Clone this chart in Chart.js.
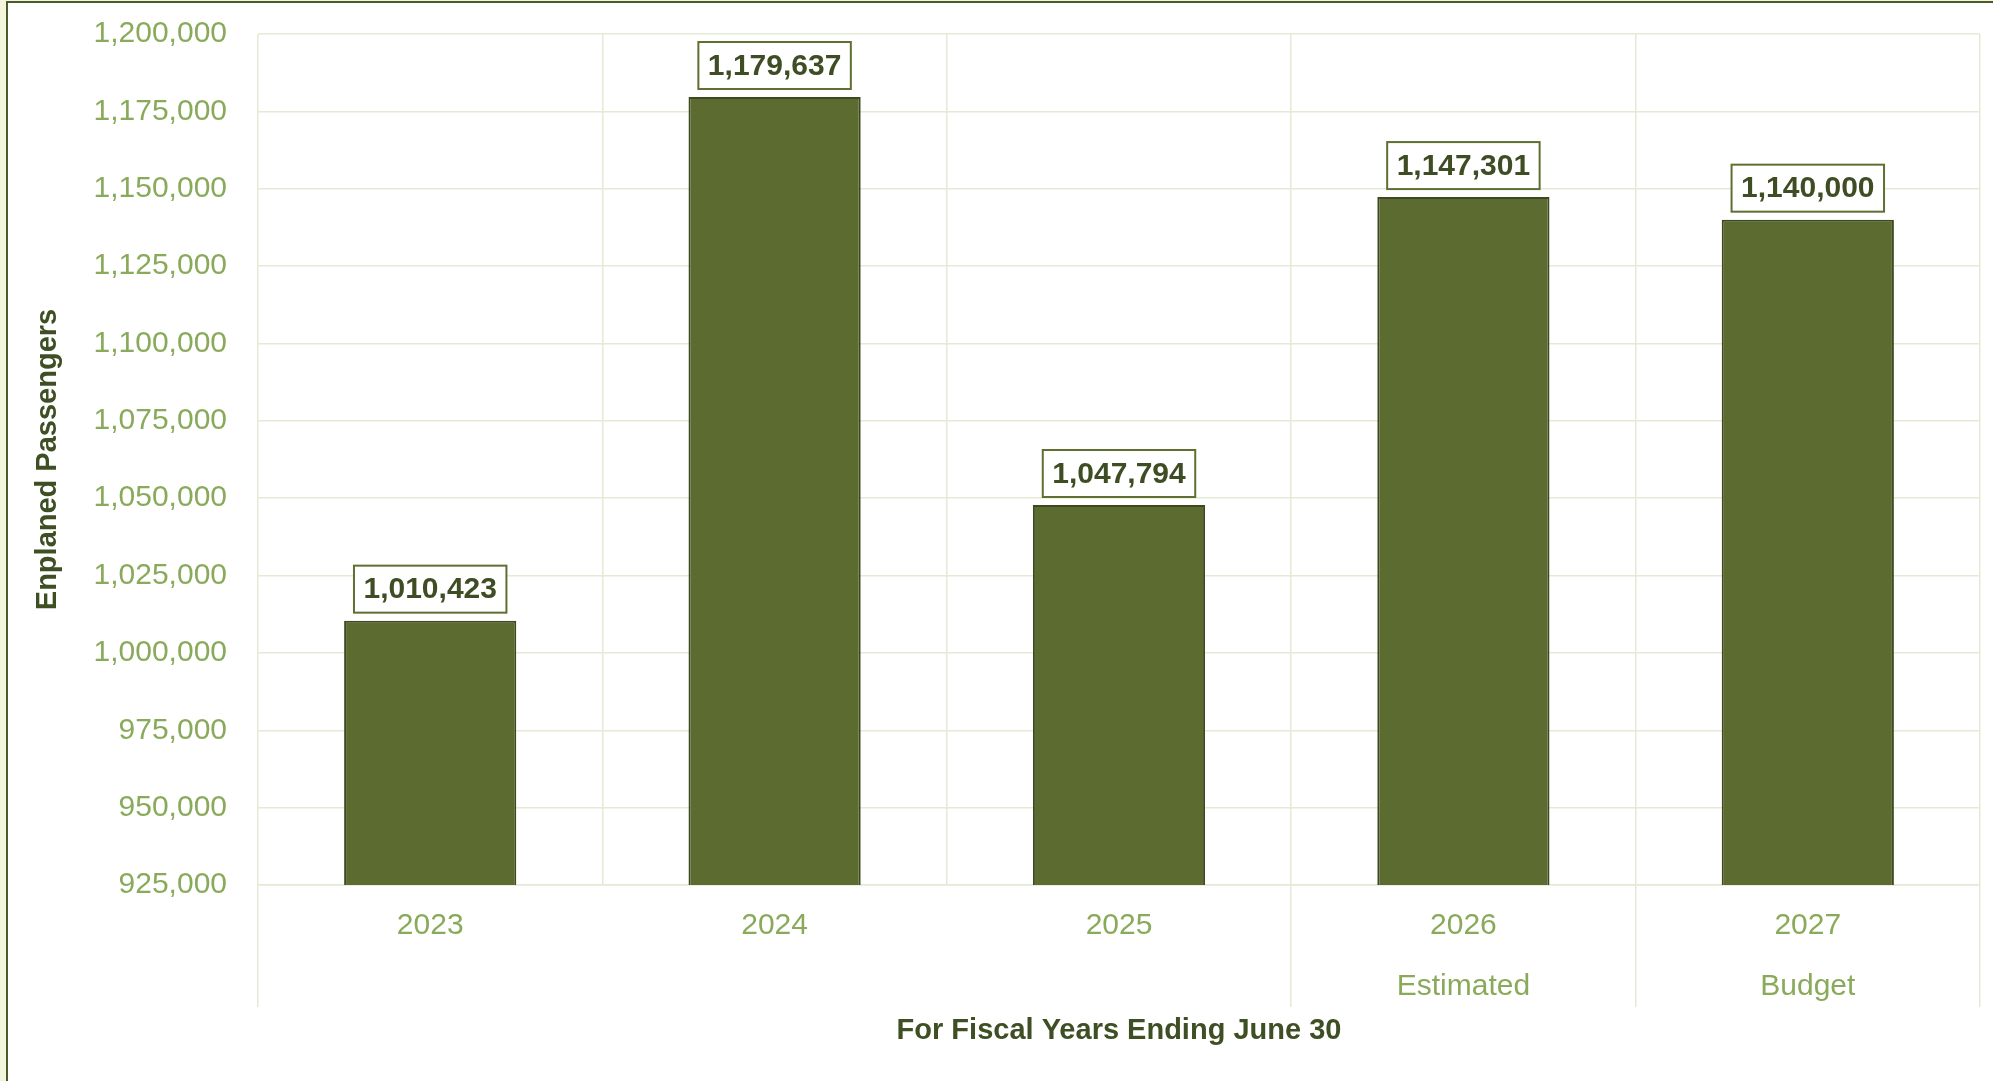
<!DOCTYPE html>
<html>
<head>
<meta charset="utf-8">
<title>Enplaned Passengers</title>
<script src="https://cdn.jsdelivr.net/npm/chart.js@4"></script>
<style>
  html, body {
    margin: 0;
    padding: 0;
    width: 1993px;
    height: 1081px;
    overflow: hidden;
    background: #f3f6dd;
  }
  #frame {
    position: absolute;
    left: 6px;
    top: 1px;
    width: 2000px;
    height: 1100px;
    background: #ffffff;
    border-left: 2px solid #4b5a2b;
    border-top: 2px solid #4b5a2b;
  }
  #chart {
    position: absolute;
    left: 0;
    top: 0;
  }
</style>
</head>
<body>
<div id="frame"></div>
<canvas id="chart" width="1993" height="1081"></canvas>
<script>
// Fiscal years and the second-level group shown under some of them
const years = ['2023', '2024', '2025', '2026', '2027'];
const yearGroups = ['', '', '', 'Estimated', 'Budget'];
const passengers = [1010423, 1179637, 1047794, 1147301, 1140000];

// Value axis range
const yMin = 925000;
const yMax = 1200000;
const yStep = 25000;

const GRID = '#e6e9d6';
const TICK_TEXT = '#8aaa5b';
const TITLE_TEXT = '#3f4f24';
const BAR_FILL = '#5c6b30';
const BAR_EDGE = '#3d4a20';
const FONT = '"Liberation Sans", Arial, sans-serif';

const fmt = (v) => Number(v).toLocaleString('en-US');

// Category labels: year on the first line, group name (if any) below
const xLabels = years.map((y, i) => yearGroups[i] ? [y, yearGroups[i]] : [y]);

// A divider runs below the axis only where the group changes
const groupDivider = (i) => {
  if (i === undefined || i === 0 || i >= years.length) return true;
  return yearGroups[i] !== yearGroups[i - 1];
};

// Boxed value labels above each bar
const valueBoxes = {
  id: 'valueBoxes',
  afterDatasetsDraw(chart) {
    const ctx = chart.ctx;
    const meta = chart.getDatasetMeta(0);
    ctx.save();
    ctx.font = 'bold 30px ' + FONT;
    ctx.textAlign = 'center';
    ctx.textBaseline = 'middle';
    meta.data.forEach((bar, i) => {
      const text = fmt(passengers[i]);
      const w = ctx.measureText(text).width + 19;
      const h = 47;
      const bottom = bar.y - 8;
      const left = bar.x - w / 2;
      ctx.fillStyle = '#ffffff';
      ctx.fillRect(left, bottom - h, w, h);
      ctx.lineWidth = 2;
      ctx.strokeStyle = '#5f6f31';
      ctx.strokeRect(left, bottom - h, w, h);
      ctx.fillStyle = '#3e4d23';
      ctx.fillText(text, bar.x, bottom - h / 2 + 1);
    });
    ctx.restore();
  }
};

const chart = new Chart(document.getElementById('chart'), {
  type: 'bar',
  data: {
    labels: xLabels,
    datasets: [{
      label: 'Enplaned Passengers',
      data: passengers,
      backgroundColor: BAR_FILL,
      borderColor: BAR_EDGE,
      borderWidth: 2,
      borderSkipped: 'start',
      barPercentage: 0.5,
      categoryPercentage: 1.0
    }]
  },
  options: {
    responsive: false,
    animation: false,
    devicePixelRatio: 1,
    layout: {
      padding: { left: 0, top: 34, right: 13, bottom: 0 }
    },
    plugins: {
      legend: { display: false },
      tooltip: { enabled: false }
    },
    scales: {
      x: {
        offset: true,
        grid: {
          offset: true,
          color: GRID,
          lineWidth: 1.5,
          drawTicks: true,
          tickLength: 122,
          tickColor: (c) => groupDivider(c.index) ? GRID : 'rgba(0,0,0,0)'
        },
        border: { display: true, color: GRID, width: 1.5 },
        ticks: {
          color: TICK_TEXT,
          font: { family: FONT, size: 30, lineHeight: 2.03 },
          padding: -112,
          maxRotation: 0,
          autoSkip: false
        },
        title: {
          display: true,
          text: 'For Fiscal Years Ending June 30',
          color: TITLE_TEXT,
          font: { family: FONT, size: 29, weight: 'bold' },
          padding: { top: 0, bottom: 33 }
        },
        afterFit: (scale) => { scale.height = 196; }
      },
      y: {
        min: yMin,
        max: yMax,
        grid: {
          color: GRID,
          lineWidth: 1.5,
          drawTicks: false
        },
        border: { display: false },
        ticks: {
          stepSize: yStep,
          color: TICK_TEXT,
          font: { family: FONT, size: 30 },
          padding: 31,
          callback: (v) => fmt(v)
        },
        title: {
          display: true,
          text: 'Enplaned Passengers',
          color: TITLE_TEXT,
          font: { family: FONT, size: 29, weight: 'bold' },
          padding: { top: 31, bottom: 0 }
        },
        afterFit: (scale) => {
          scale.width = 258;
          // only half a label is needed above the top tick
          scale.paddingTop = 18;
          scale.paddingBottom = 18;
        }
      }
    }
  },
  plugins: [valueBoxes]
});
</script>
</body>
</html>
